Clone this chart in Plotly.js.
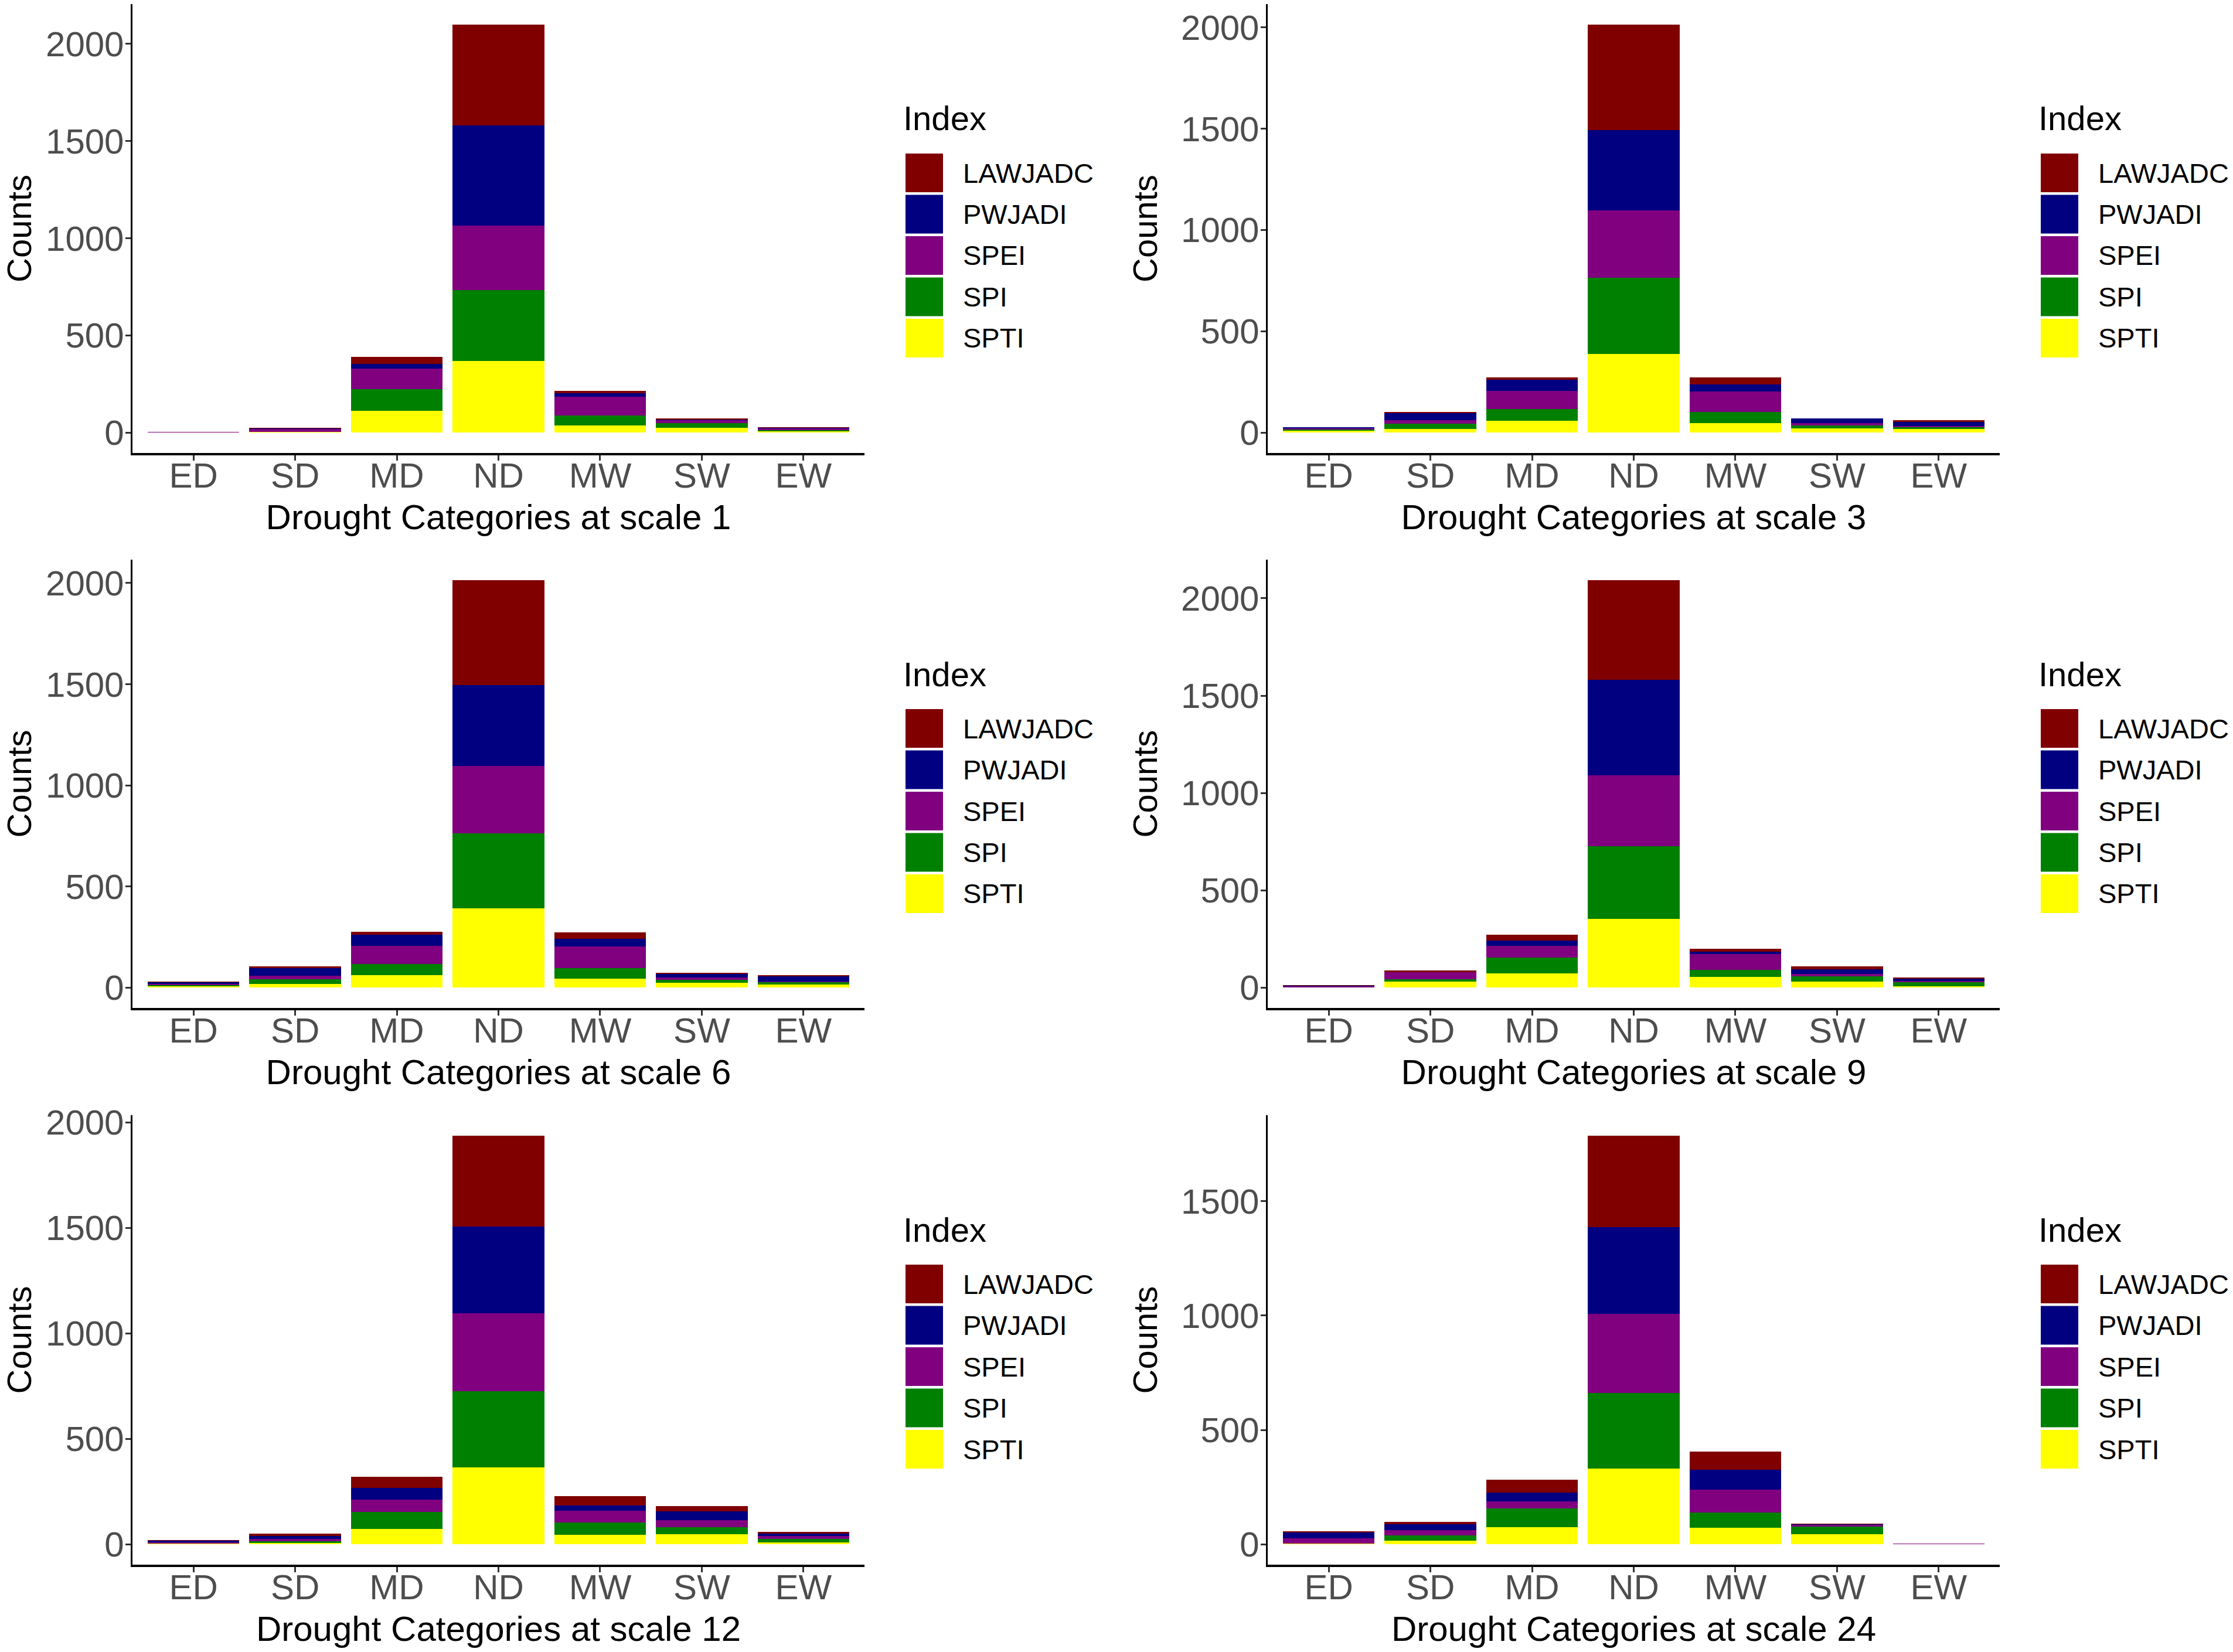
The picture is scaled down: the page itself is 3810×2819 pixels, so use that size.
<!DOCTYPE html>
<html>
<head>
<meta charset="utf-8">
<script src="https://cdn.plot.ly/plotly-3.0.1.min.js"></script>
<style>
	html, body { margin: 0; padding: 0; background: #fff; }
</style>
</head>
<body>
<div id="chart"></div>
<script>
/* global Plotly */

const categories = ["ED", "SD", "MD", "ND", "MW", "SW", "EW"];
// stacking order, bottom to top
const indexNames = ["SPTI", "SPI", "SPEI", "PWJADI", "LAWJADC"];
const indexColors = ["#FFFF00", "#008000", "#800080", "#000080", "#800000"];
const scales = [1, 3, 6, 9, 12, 24];

// one row per index (same order as indexNames), one value per category
const scale1 = [
	[1, 3, 113, 367, 38, 25, 7],
	[0, 2, 112, 365, 50, 25, 6],
	[2, 15, 103, 333, 97, 15, 8],
	[1, 2, 25, 515, 17, 3, 4],
	[1, 3, 38, 520, 13, 5, 2],
];
const scale3 = [
	[9, 19, 58, 388, 46, 21, 19],
	[5, 24, 58, 376, 56, 13, 8],
	[6, 19, 89, 334, 102, 14, 5],
	[6, 34, 56, 396, 34, 21, 21],
	[1, 7, 12, 520, 34, 1, 7],
];
const scale6 = [
	[7, 19, 62, 392, 43, 23, 16],
	[5, 21, 54, 372, 54, 16, 10],
	[6, 19, 89, 333, 107, 12, 5],
	[10, 37, 55, 398, 36, 17, 24],
	[1, 10, 16, 520, 34, 4, 7],
];
const scale9 = [
	[0, 30, 74, 354, 54, 32, 7],
	[1, 12, 81, 372, 36, 25, 20],
	[6, 37, 59, 365, 82, 13, 8],
	[2, 1, 28, 491, 12, 25, 10],
	[3, 8, 30, 512, 15, 15, 7],
];
const scale12 = [
	[2, 7, 73, 364, 45, 49, 9],
	[2, 6, 79, 362, 59, 33, 17],
	[5, 12, 59, 370, 55, 31, 14],
	[8, 14, 55, 409, 24, 42, 11],
	[2, 11, 54, 432, 44, 27, 9],
];
const scale24 = [
	[2, 15, 75, 332, 71, 45, 0],
	[2, 23, 81, 329, 69, 33, 0],
	[21, 24, 32, 347, 99, 6, 2],
	[26, 26, 37, 380, 86, 4, 0],
	[6, 9, 58, 399, 80, 3, 1],
];
const countsByScale = [scale1, scale3, scale6, scale9, scale12, scale24];

const W = 3810;
const H = 2819;
const colX = [[226, 1475], [2163, 3412]];
const rowY = [[7, 773], [955, 1720], [1903, 2670]];
const FONT = '"Liberation Sans", Arial, sans-serif';

const px = x => x / W;
const py = y => 1 - y / H;

const traces = [];
const shapes = [];
const annotations = [];
const layout = {
	width: W,
	height: H,
	margin: { t: 0, b: 0, l: 0, r: 0 },
	paper_bgcolor: "#fff",
	plot_bgcolor: "#fff",
	barmode: "stack",
	bargap: 0.1,
	showlegend: false,
	font: { family: FONT, color: "#000" },
};

scales.forEach((scale, p) => {
	const n = p + 1;
	const suffix = n === 1 ? "" : String(n);
	const xRef = "x" + suffix;
	const yRef = "y" + suffix;
	const [x0, x1] = colX[p % 2];
	const [y0, y1] = rowY[Math.floor(p / 2)];
	const counts = countsByScale[p];

	counts.forEach((vals, i) => {
		traces.push({
			type: "bar",
			x: categories,
			y: vals,
			name: indexNames[i],
			marker: { color: indexColors[i], line: { width: 0 } },
			xaxis: xRef,
			yaxis: yRef,
			hoverinfo: "skip",
		});
	});

	const totals = categories.map((_, c) => counts.reduce((s, row) => s + row[c], 0));
	const top = Math.max(...totals);

	const axisCommon = {
		showgrid: false,
		zeroline: false,
		showline: true,
		linecolor: "#000",
		linewidth: 3.5,
		ticks: "outside",
		ticklen: 9,
		tickwidth: 3,
		tickcolor: "#333",
		tickfont: { family: FONT, size: 60, color: "#4D4D4D" },
		fixedrange: true,
	};

	layout["xaxis" + suffix] = {
		...axisCommon,
		type: "category",
		categoryorder: "array",
		categoryarray: categories,
		domain: [px(x0), px(x1)],
		anchor: yRef,
		range: [-0.6, categories.length - 0.4],
		ticklabelstandoff: -26,
		title: {
			text: "Drought Categories at scale " + scale,
			font: { family: FONT, size: 60, color: "#000" },
			standoff: 18,
		},
	};
	layout["yaxis" + suffix] = {
		...axisCommon,
		domain: [py(y1), py(y0)],
		anchor: xRef,
		range: [-0.05 * top, 1.05 * top],
		tick0: 0,
		dtick: 500,
		ticklabelstandoff: -10,
		title: {
			text: "Counts",
			font: { family: FONT, size: 58, color: "#000" },
			standoff: 22,
		},
	};

	// legend, drawn like the ggplot guide: title then keys, top entry = top of stack
	annotations.push({
		xref: "paper",
		yref: "paper",
		x: px(x1 + 64),
		y: py(y0 + 195),
		xanchor: "left",
		yanchor: "middle",
		showarrow: false,
		text: "Index",
		font: { family: FONT, size: 58, color: "#000" },
	});
	const order = indexNames.map((_, i) => indexNames.length - 1 - i);
	order.forEach((idx, row) => {
		const keyTop = y0 + 255 + row * 70.5;
		shapes.push({
			type: "rect",
			xref: "paper",
			yref: "paper",
			x0: px(x1 + 70),
			x1: px(x1 + 134),
			y0: py(keyTop),
			y1: py(keyTop + 66),
			fillcolor: indexColors[idx],
			line: { width: 0 },
		});
		annotations.push({
			xref: "paper",
			yref: "paper",
			x: px(x1 + 166),
			y: py(keyTop + 33),
			xanchor: "left",
			yanchor: "middle",
			showarrow: false,
			text: indexNames[idx],
			font: { family: FONT, size: 47, color: "#000" },
		});
	});
});

layout.shapes = shapes;
layout.annotations = annotations;

Plotly.newPlot("chart", traces, layout, { displayModeBar: false, staticPlot: true });
</script>
</body>
</html>
